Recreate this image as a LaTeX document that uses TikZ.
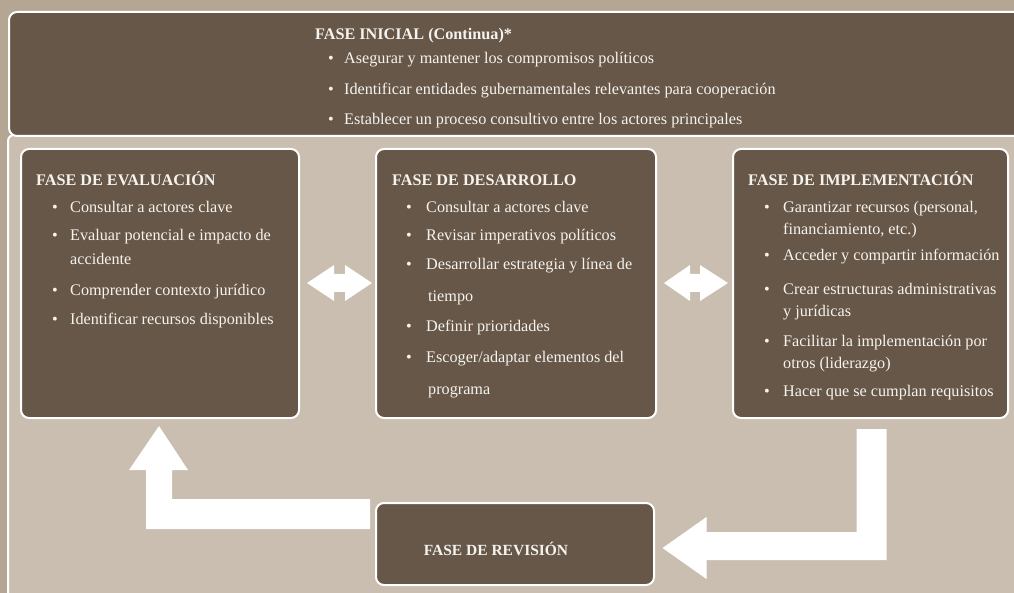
\documentclass[tikz,border=0pt]{standalone}
\usepackage{fontspec}
\setmainfont{Liberation Serif}
\usetikzlibrary{calc}
\definecolor{outerbg}{RGB}{180,166,146}
\definecolor{panelbg}{RGB}{201,190,175}
\definecolor{darkbox}{RGB}{102,87,72}
\definecolor{txt}{RGB}{246,243,238}
\tikzset{
  box/.style={draw=white, line width=2pt, fill=darkbox, rounded corners=8pt, anchor=north west, inner sep=0pt},
  ttl/.style={anchor=base west, text=txt, font=\bfseries\fontsize{16.2}{19}\selectfont, inner sep=0pt},
  itm/.style={anchor=base west, text=txt, font=\fontsize{16.2}{19}\selectfont, inner sep=0pt},
  bul/.style={anchor=base west, text=txt, font=\fontsize{16.2}{19}\selectfont, inner sep=0pt},
  bigarrow/.style={fill=white, draw=none}
}
\begin{document}
\begin{tikzpicture}[x=1pt,y=-1pt]
\useasboundingbox (0,0) rectangle (1014,593);
\fill[outerbg] (0,0) rectangle (1014,593);
% panel
\draw[white, line width=2pt, fill=panelbg, rounded corners=6pt] (8,135) rectangle (1030,610);
% banner
\node[box, minimum width=1022pt, minimum height=124pt] (ini) at (8,11) {};
% boxes
\node[box, minimum width=278pt, minimum height=269pt] (eva) at (20,148) {};
\node[box, minimum width=280pt, minimum height=269pt] (des) at (375,148) {};
\node[box, minimum width=275pt, minimum height=269pt] (imp) at (732,148) {};
\node[box, minimum width=278pt, minimum height=82pt] (rev) at (375,502) {};
\begin{scope}[shift={(0,2)}]
% banner text
\node[ttl] (iniT) at (315,38) {FASE INICIAL (Continua)*};
\node[bul] (iniB1) at (328,62) {\textbullet};
\node[itm] (ini1) at (344,62) {Asegurar y mantener los compromisos políticos};
\node[bul] (iniB2) at (328,93) {\textbullet};
\node[itm] (ini2) at (344,93) {Identificar entidades gubernamentales relevantes para cooperación};
\node[bul] (iniB3) at (328,123) {\textbullet};
\node[itm] (ini3) at (344,123) {Establecer un proceso consultivo entre los actores principales};
% evaluacion text
\node[ttl] (evaT) at (36,184) {FASE DE EVALUACIÓN};
\node[bul] (evaB1) at (52,211) {\textbullet};
\node[itm] (eva1) at (70,211) {Consultar a actores clave};
\node[bul] (evaB2) at (52,239) {\textbullet};
\node[itm] (eva2) at (70,239) {Evaluar potencial e impacto de};
\node[itm] (eva2b) at (70,263) {accidente};
\node[bul] (evaB3) at (52,294) {\textbullet};
\node[itm] (eva3) at (70,294) {Comprender contexto jurídico};
\node[bul] (evaB4) at (52,322) {\textbullet};
\node[itm] (eva4) at (70,322) {Identificar recursos disponibles};
% desarrollo text
\node[ttl] (desT) at (392,184) {FASE DE DESARROLLO};
\node[bul] (desB1) at (406,211) {\textbullet};
\node[itm] (des1) at (426,211) {Consultar a actores clave};
\node[bul] (desB2) at (406,239) {\textbullet};
\node[itm] (des2) at (426,239) {Revisar imperativos políticos};
\node[bul] (desB3) at (406,268) {\textbullet};
\node[itm] (des3) at (426,268) {Desarrollar estrategia y línea de};
\node[itm] (des3b) at (428,300) {tiempo};
\node[bul] (desB4) at (406,329) {\textbullet};
\node[itm] (des4) at (426,329) {Definir prioridades};
\node[bul] (desB5) at (406,360) {\textbullet};
\node[itm] (des5) at (426,360) {Escoger/adaptar elementos del};
\node[itm] (des5b) at (428,392) {programa};
% implementacion text
\node[ttl] (impT) at (748,184) {FASE DE IMPLEMENTACIÓN};
\node[bul] (impB1) at (764,211) {\textbullet};
\node[itm] (imp1) at (783,211) {Garantizar recursos (personal,};
\node[itm] (imp1b) at (783,233) {financiamiento, etc.)};
\node[bul] (impB2) at (764,259) {\textbullet};
\node[itm] (imp2) at (783,259) {Acceder y compartir información};
\node[bul] (impB3) at (764,293) {\textbullet};
\node[itm] (imp3) at (783,293) {Crear estructuras administrativas};
\node[itm] (imp3b) at (783,315) {y jurídicas};
\node[bul] (impB4) at (764,344) {\textbullet};
\node[itm] (imp4) at (783,344) {Facilitar la implementación por};
\node[itm] (imp4b) at (783,366) {otros (liderazgo)};
\node[bul] (impB5) at (764,394) {\textbullet};
\node[itm] (imp5) at (783,394) {Hacer que se cumplan requisitos};
\end{scope}
% revision text
\node[ttl, anchor=base, font=\bfseries\fontsize{15.5}{18}\selectfont] (revT) at (496,555) {FASE DE REVISIÓN};
% double arrows eva <-> des
\fill[white] ($(eva.north east)+(7,135)$) -- ++(27,-18) -- ++(0,9) -- ++(11,0) -- ++(0,-9) -- ++(27,18) -- ++(-27,18) -- ++(0,-9) -- ++(-11,0) -- ++(0,9) -- cycle;
% double arrows des <-> imp
\fill[white] ($(des.north east)+(7,135)$) -- ++(26,-18) -- ++(0,9) -- ++(10,0) -- ++(0,-9) -- ++(28,18) -- ++(-28,18) -- ++(0,-9) -- ++(-10,0) -- ++(0,9) -- cycle;
% rev -> eva (L arrow, up)
\fill[white] ($(rev.west)+(-5,-15)$) -- ++(-224,0) -- ++(0,-59) -- ++(-17,0) -- ++(30,-44) -- ++(29,44) -- ++(-16,0) -- ++(0,29) -- ++(198,0) -- cycle;
% imp -> rev (L arrow)
\fill[white] ($(imp.south)+(-14,10)$) -- ++(30,0) -- ++(0,131) -- ++(-180,0) -- ++(0,19) -- ++(-44,-31) -- ++(44,-31) -- ++(0,15) -- ++(150,0) -- cycle;
\end{tikzpicture}
\end{document}
